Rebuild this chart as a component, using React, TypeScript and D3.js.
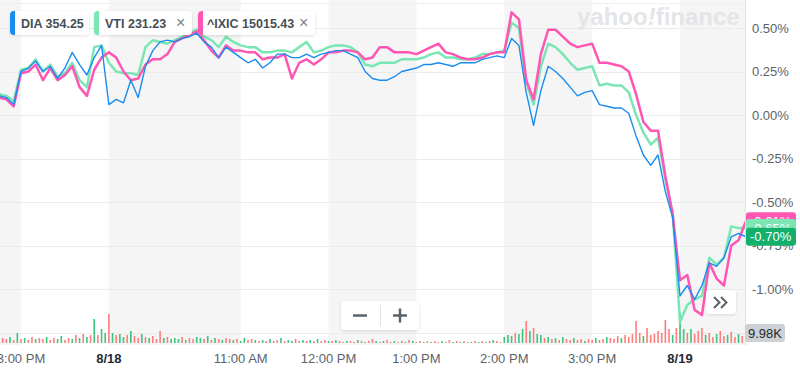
import React from "react";
import * as d3 from "d3";

const W = 800;
const H = 373;

// time axis: trading hours since 3:00 PM 8/17 (8/18 open = 1, 8/19 open = 7.5)
const tickHours = [0, 1, 2.5, 3.5, 4.5, 5.5, 6.5, 7.5];
const tickLabels = ["3:00 PM", "8/18", "11:00 AM", "12:00 PM", "1:00 PM", "2:00 PM", "3:00 PM", "8/19"];
const tickBold = [false, true, false, false, false, false, false, true];

const yTicks = [0.5, 0.25, 0, -0.25, -0.5, -0.75, -1.0];
const yTickLabels = ["0.50%", "0.25%", "0.00%", "-0.25%", "-0.50%", "-0.75%", "-1.00%"];

// % change, 5-minute steps starting at t = -0.25
const dia = [
  0.11, 0.10, 0.06, 0.25, 0.27, 0.31, 0.25, 0.28, 0.21, 0.27,
  0.36, 0.29, 0.23, 0.33, 0.40, 0.06, 0.09, 0.07, 0.20, 0.10,
  0.28, 0.37, 0.42, 0.43, 0.42, 0.44, 0.45, 0.47, 0.42, 0.39,
  0.33, 0.39, 0.36, 0.33, 0.30, 0.32, 0.27, 0.30, 0.35, 0.35,
  0.33, 0.33, 0.35, 0.33, 0.35, 0.36, 0.37, 0.37, 0.35, 0.33,
  0.25, 0.21, 0.20, 0.20, 0.22, 0.25, 0.26, 0.27, 0.29, 0.29,
  0.30, 0.29, 0.28, 0.30, 0.30, 0.30, 0.32, 0.33, 0.34, 0.33,
  0.44, 0.40, 0.13, -0.06, 0.14, 0.28, 0.25, 0.21, 0.16, 0.11,
  0.13, 0.14, 0.06, 0.05, 0.04, 0.04, 0.01, -0.12, -0.23, -0.29,
  -0.23, -0.44, -0.59, -1.04, -0.98, -1.06, -0.98, -0.85, -0.87, -0.82,
  -0.70, -0.68, -0.70,
];
const vti = [
  0.12, 0.11, 0.08, 0.26, 0.27, 0.32, 0.25, 0.29, 0.22, 0.24,
  0.30, 0.20, 0.16, 0.39, 0.40, 0.30, 0.25, 0.24, 0.24, 0.23,
  0.39, 0.43, 0.42, 0.41, 0.43, 0.45, 0.47, 0.49, 0.45, 0.43,
  0.39, 0.45, 0.42, 0.40, 0.39, 0.39, 0.36, 0.36, 0.37, 0.37,
  0.36, 0.39, 0.42, 0.36, 0.37, 0.39, 0.40, 0.40, 0.39, 0.36,
  0.29, 0.28, 0.30, 0.30, 0.30, 0.32, 0.32, 0.32, 0.33, 0.35,
  0.36, 0.33, 0.33, 0.32, 0.32, 0.33, 0.35, 0.35, 0.36, 0.37,
  0.53, 0.50, 0.19, 0.06, 0.28, 0.41, 0.39, 0.35, 0.30, 0.26,
  0.27, 0.28, 0.17, 0.18, 0.17, 0.17, 0.13, 0.00, -0.10, -0.17,
  -0.13, -0.37, -0.56, -1.19, -1.09, -1.06, -1.04, -0.82, -0.86, -0.82,
  -0.64, -0.65, -0.65,
];
const ixic = [
  0.10, 0.09, 0.05, 0.24, 0.25, 0.29, 0.20, 0.27, 0.20, 0.23,
  0.28, 0.16, 0.11, 0.26, 0.33, 0.36, 0.33, 0.25, 0.20, 0.21,
  0.29, 0.32, 0.32, 0.35, 0.42, 0.44, 0.46, 0.48, 0.43, 0.37,
  0.33, 0.40, 0.37, 0.37, 0.36, 0.36, 0.32, 0.33, 0.33, 0.35,
  0.21, 0.30, 0.32, 0.29, 0.32, 0.36, 0.36, 0.37, 0.37, 0.36,
  0.32, 0.33, 0.39, 0.39, 0.36, 0.36, 0.36, 0.35, 0.37, 0.39,
  0.41, 0.36, 0.35, 0.33, 0.32, 0.32, 0.33, 0.35, 0.36, 0.36,
  0.59, 0.55, 0.20, 0.09, 0.35, 0.49, 0.49, 0.45, 0.41, 0.39,
  0.40, 0.41, 0.30, 0.30, 0.29, 0.28, 0.25, 0.12, -0.04, -0.09,
  -0.09, -0.35, -0.57, -0.95, -0.92, -1.12, -1.15, -0.85, -0.94, -0.98,
  -0.75, -0.72, -0.61,
];

// volume (K), 2.5-minute steps starting at t = -0.25
const volume = [
  11, 5, 4, 6, 3, 10, 4, 5, 3, 6, 4, 5,
  4, 6, 3, 5, 4, 7, 3, 5, 4, 8, 5, 9,
  6, 8, 24, 8, 14, 10, 29, 10, 8, 9, 6, 8,
  12, 7, 5, 9, 6, 5, 7, 4, 12, 5, 6, 4,
  5, 4, 6, 3, 5, 4, 6, 5, 4, 7, 3, 5,
  4, 3, 5, 4, 3, 4, 2, 5, 3, 4, 3, 2,
  3, 2, 4, 2, 3, 5, 2, 3, 2, 4, 2, 3,
  2, 3, 2, 4, 2, 3, 2, 2, 3, 2, 1, 2,
  2, 1, 3, 2, 1, 2, 4, 2, 1, 2, 3, 1,
  2, 1, 2, 1, 3, 2, 1, 2, 1, 2, 1, 2,
  1, 2, 1, 3, 1, 2, 1, 2, 1, 1, 2, 1,
  2, 1, 2, 3, 2, 1, 6, 8, 7, 10, 9, 14,
  22, 12, 15, 9, 8, 5, 6, 4, 5, 3, 6, 4,
  3, 5, 3, 4, 2, 4, 3, 5, 3, 4, 6, 5,
  4, 7, 5, 8, 6, 9, 22, 10, 7, 15, 8, 9,
  12, 10, 23, 14, 8, 15, 30, 14, 10, 14, 9, 12,
  15, 8, 10, 6, 9, 12, 7, 8, 11, 6, 9, 7,
  8,
];
const volumeDir = (
  "grrgrgrgrrgr" + "rgrrggrrgrgr" + "grgrggrgrggr" + "grrgrgrrrgrg" +
  "ggrgrrggrgrg" + "rgrrgrggrrgr" + "grgrrgrggrrg" + "rgrgrrgrgrrg" +
  "rrgrgrrgrgrr" + "grrgrgrrgrgr" + "rgrrgrgrrgrg" + "rgrgrrgggrgg" +
  "rgrggrgrgrgr" + "rgrrgrrgrrgr" + "rrgrrrrrgrrr" + "rrrrgrggrgrr" +
  "rgrrgrrgrrgr" + "r"
).split("");

const seriesNames = ["DIA", "VTI", "^IXIC"];
const seriesPrices = ["354.25", "231.23", "15015.43"];
const seriesColors = ["#1a8cf0", "#79e6b4", "#ff55b3"];
const endLabelTexts = ["-0.61%", "-0.65%", "-0.70%"];

const FONT = "'Liberation Sans', Arial, Helvetica, sans-serif";
const PR = 745; // plot right edge

export default function App() {
  const x = d3.scaleLinear().domain([0, 7.5]).range([21, 680]);
  const y = d3.scaleLinear().domain([0, 0.5]).range([115, 28]);
  const yVol = d3.scaleLinear().domain([0, 9.98]).range([343, 333]);
  const tPrice = (i: number) => -0.25 + i / 12;
  const tVol = (j: number) => -0.25 + j / 24;

  const lineGen = d3
    .line<number>()
    .x((_, i) => x(tPrice(i)))
    .y((d) => y(d));

  const bounds = [-0.25, ...tickHours, 8.25];
  const bands = bounds.slice(0, -1).map((b, k) => ({
    x0: Math.max(0, x(b)),
    x1: Math.min(PR, x(bounds[k + 1])),
    gray: k % 2 === 0,
  }));

  const chips = [
    { x: 10, w: 79, tx: 21, close: false },
    { x: 94, w: 98, tx: 105, close: true },
    { x: 198, w: 117, tx: 207, close: true },
  ];

  const lastVals = [ixic[ixic.length - 1], vti[vti.length - 1], dia[dia.length - 1]];
  const endColors = ["#ff55b3", "#7de6b3", "#12b06a"];

  const stripe = (cx: number, cy: number, h: number) =>
    `M${cx + 5},${cy} H${cx + 4} A4,4 0 0 0 ${cx},${cy + 4} V${cy + h - 4} A4,4 0 0 0 ${cx + 4},${cy + h} H${cx + 5} Z`;

  return (
    <svg
      width={W}
      height={H}
      style={{ position: "absolute", left: 0, top: 0, background: "#fff", fontFamily: FONT }}
    >
      <defs>
        <clipPath id="plot">
          <rect x={0} y={0} width={PR} height={H} />
        </clipPath>
        <filter id="sh" x="-20%" y="-30%" width="140%" height="160%">
          <feDropShadow dx="0" dy="1" stdDeviation="1.5" floodColor="#000" floodOpacity="0.13" />
        </filter>
      </defs>

      {/* session bands */}
      {bands.map((b, k) =>
        b.gray ? <rect key={k} x={b.x0} y={0} width={b.x1 - b.x0} height={345} fill="#f5f5f5" /> : null
      )}

      {/* grid */}
      <line x1={0} x2={PR} y1={3.5} y2={3.5} stroke="#efefef" />
      {yTicks.map((t, k) => (
        <line key={k} x1={0} x2={PR} y1={Math.round(y(t)) + 0.5} y2={Math.round(y(t)) + 0.5} stroke="#ebebeb" />
      ))}
      <line x1={0} x2={PR} y1={yVol(9.98) + 0.5} y2={yVol(9.98) + 0.5} stroke="#ececec" />
      <line x1={PR + 0.5} x2={PR + 0.5} y1={0} y2={345} stroke="#e0e0e0" />

      {/* volume */}
      <g clipPath="url(#plot)">
        {volume.map((v, j) => (
          <rect
            key={j}
            x={x(tVol(j)) - 0.8}
            y={yVol(v)}
            width={1.6}
            height={yVol(0) - yVol(v)}
            fill={volumeDir[j] === "g" ? "#3cc481" : "#ff7d7d"}
          />
        ))}
      </g>

      {/* watermark */}
      <text x={577} y={25} fontSize={24} fontWeight="bold" fill="#e3e5e8" fontFamily={FONT}>
        yahoo<tspan fontStyle="italic">!</tspan>finance
      </text>

      {/* lines */}
      <g clipPath="url(#plot)" fill="none" strokeLinejoin="round">
        <path d={lineGen(vti) || ""} stroke={seriesColors[1]} strokeWidth={2.5} />
        <path d={lineGen(ixic) || ""} stroke={seriesColors[2]} strokeWidth={2.5} />
        <path d={lineGen(dia) || ""} stroke={seriesColors[0]} strokeWidth={1.4} />
      </g>

      {/* right axis labels */}
      {yTicks.map((t, k) => (
        <text key={k} x={752} y={y(t)} dy="0.35em" fontSize={13} fill="#5b636a">
          {yTickLabels[k]}
        </text>
      ))}

      {/* end labels */}
      {lastVals.map((v, k) => (
        <g key={k}>
          <rect x={746} y={y(v) - 9} width={50} height={18} rx={3} fill={endColors[k]} />
          <text x={750} y={y(v)} dy="0.35em" fontSize={13} fill="#fff">
            {endLabelTexts[k]}
          </text>
        </g>
      ))}

      {/* volume label */}
      <rect x={745} y={324} width={40} height={18} rx={3} fill="#cdd1d5" />
      <text x={748} y={333} dy="0.35em" fontSize={13} fill="#232a31">
        9.98K
      </text>

      {/* time axis */}
      {tickHours.map((t, k) => (
        <text
          key={k}
          x={x(t)}
          y={363}
          textAnchor="middle"
          fontSize={13}
          fontWeight={tickBold[k] ? "bold" : "normal"}
          fill={tickBold[k] ? "#232a31" : "#5b636a"}
        >
          {tickLabels[k]}
        </text>
      ))}

      {/* legend chips */}
      {chips.map((c, k) => (
        <g key={k}>
          <rect x={c.x} y={11} width={c.w} height={24} rx={4} fill="#fff" filter="url(#sh)" />
          <path d={stripe(c.x, 11, 24)} fill={seriesColors[k]} />
          <text x={c.tx} y={27.5} fontSize={12.5} fontWeight="bold" fill="#464e56">
            {seriesNames[k]} {seriesPrices[k]}
          </text>
          {c.close ? (
            <text x={c.x + c.w - 16} y={28} fontSize={16} fill="#7a828a">
              ×
            </text>
          ) : null}
        </g>
      ))}

      {/* zoom buttons */}
      <rect x={341} y={301} width={78} height={29} rx={4} fill="#fff" filter="url(#sh)" />
      <line x1={380.5} x2={380.5} y1={305} y2={326} stroke="#e3e3e3" />
      <line x1={353} x2={367} y1={315.5} y2={315.5} stroke="#5b636a" strokeWidth={2.5} />
      <line x1={393} x2={407} y1={315.5} y2={315.5} stroke="#5b636a" strokeWidth={2.5} />
      <line x1={400} x2={400} y1={308.5} y2={322.5} stroke="#5b636a" strokeWidth={2.5} />

      <rect x={706} y={290} width={30} height={24} rx={4} fill="#fff" filter="url(#sh)" />
      <path d="M714,297 L719.5,302.5 L714,308 M721,297 L726.5,302.5 L721,308" fill="none" stroke="#5b636a" strokeWidth={2} />
    </svg>
  );
}
